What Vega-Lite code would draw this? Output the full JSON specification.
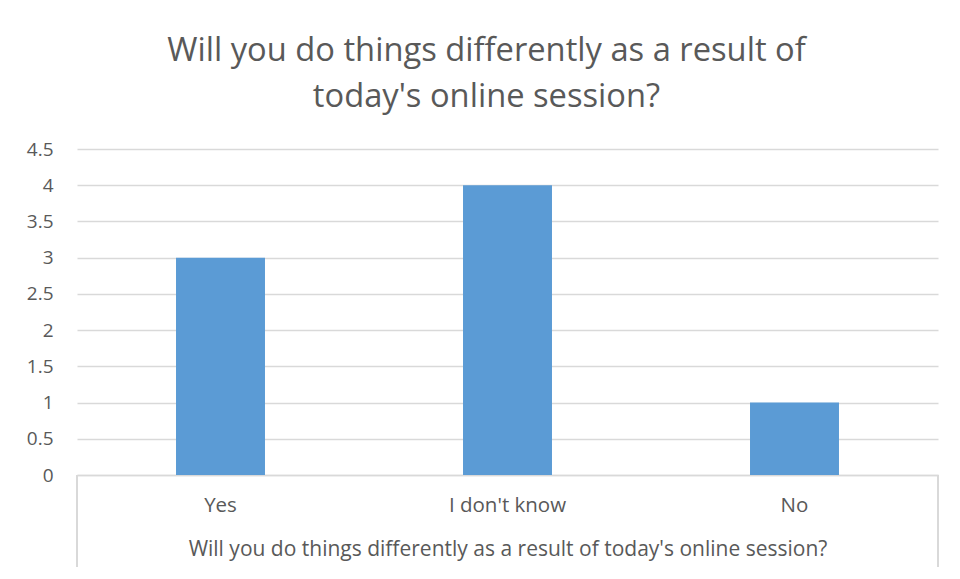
{
  "$schema": "https://vega.github.io/schema/vega-lite/v6.json",
  "width": 861,
  "height": 326,
  "autosize": {"type": "none"},
  "padding": {"left": 77, "top": 149, "right": 22, "bottom": 104},
  "background": "white",
  "config": {
    "font": "Open Sans",
    "view": {"stroke": null},
    "axisY": {
      "title": null,
      "values": [0, 0.5, 1, 1.5, 2, 2.5, 3, 3.5, 4, 4.5],
      "labelExpr": "format(datum.value, '~g')",
      "labelFontSize": 19,
      "labelColor": "#595959",
      "labelPadding": 24,
      "labelOverlap": false,
      "labelFlush": false,
      "ticks": false,
      "domain": false,
      "gridColor": "#d9d9d9",
      "gridWidth": 1.5
    },
    "axisX": {
      "titleFontSize": 21,
      "titleFontWeight": "normal",
      "titleColor": "#595959",
      "titlePadding": 23,
      "labelAngle": 0,
      "labelFontSize": 20.5,
      "labelColor": "#595959",
      "labelPadding": 20,
      "ticks": false,
      "grid": false,
      "domainColor": "#d9d9d9",
      "domainWidth": 1.5
    }
  },
  "title": {
    "text": ["Will you do things differently as a result of", "today's online session?"],
    "fontSize": 32.7,
    "fontWeight": "normal",
    "color": "#595959",
    "lineHeight": 46,
    "anchor": "middle",
    "frame": "group",
    "offset": 26,
    "dx": -21
  },
  "data": {
    "values": [
      {"answer": "Yes", "count": 3},
      {"answer": "I don't know", "count": 4},
      {"answer": "No", "count": 1}
    ]
  },
  "layer": [
    {
      "mark": {"type": "bar", "color": "#5b9bd5", "width": {"band": 0.31}},
      "encoding": {
        "x": {
          "field": "answer",
          "type": "nominal",
          "sort": ["Yes", "I don't know", "No"],
          "scale": {"paddingInner": 0, "paddingOuter": 0},
          "title": "Will you do things differently as a result of today's online session?"
        },
        "y": {
          "field": "count",
          "type": "quantitative",
          "scale": {"domain": [0, 4.5]},
          "title": null
        }
      }
    },
    {
      "mark": {"type": "rule", "color": "#d9d9d9", "strokeWidth": 1.5},
      "encoding": {
        "x": {"datum": "Yes", "type": "nominal", "bandPosition": 0},
        "y": {"datum": 0, "type": "quantitative"},
        "y2": {"datum": -1.27}
      }
    },
    {
      "mark": {"type": "rule", "color": "#d9d9d9", "strokeWidth": 1.5},
      "encoding": {
        "x": {"datum": "No", "type": "nominal", "bandPosition": 1},
        "y": {"datum": 0, "type": "quantitative"},
        "y2": {"datum": -1.27}
      }
    }
  ]
}
